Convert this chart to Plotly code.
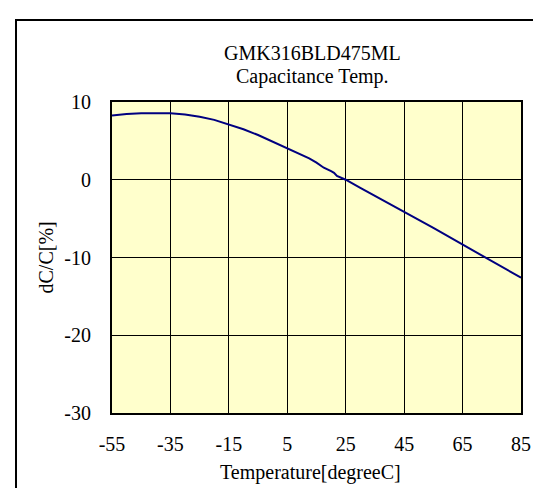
import plotly.graph_objects as go

temps = [-55, -50, -45, -40, -35, -30, -25, -20, -15, -10, -5, 0, 5, 10, 12.5, 15, 17.5, 20, 21, 22, 25,
         30, 35, 40, 45, 50, 55, 60, 65, 70, 75, 80, 85]
dcc = [8.25, 8.45, 8.55, 8.55, 8.55, 8.4, 8.1, 7.7, 7.15, 6.5, 5.75, 4.9, 4.0, 3.2, 2.75, 2.2, 1.55, 1.1, 0.9, 0.5, 0.0,
       -1.05, -2.05, -3.1, -4.1, -5.15, -6.2, -7.25, -8.3, -9.35, -10.4, -11.5, -12.6]

x_ticks = [-55, -35, -15, 5, 25, 45, 65, 85]
y_ticks = [10, 0, -10, -20, -30]

title_lines = ["GMK316BLD475ML", "Capacitance Temp."]
x_title = "Temperature[degreeC]"
y_title = "dC/C[%]"

FONT = "Liberation Serif, Times New Roman, serif"

fig = go.Figure()
fig.add_trace(go.Scatter(x=temps, y=dcc, mode="lines",
                         line=dict(color="#000080", width=2), showlegend=False))

fig.update_layout(
    width=541, height=488,
    margin=dict(l=104, r=28, t=94, b=83),
    paper_bgcolor="white",
    plot_bgcolor="#FFFFCC",
    font=dict(family=FONT, size=20, color="black"),
    xaxis=dict(range=[-55, 85], tickvals=x_ticks, ticktext=[str(v) for v in x_ticks],
               showgrid=True, gridcolor="black", gridwidth=1,
               showline=True, linecolor="black", linewidth=2, mirror=True,
               ticks="", ticklabelstandoff=12, zeroline=False,
               tickfont=dict(family=FONT, size=20)),
    yaxis=dict(range=[-30, 10], tickvals=y_ticks, ticktext=[str(v) for v in y_ticks],
               showgrid=True, gridcolor="black", gridwidth=1,
               showline=True, linecolor="black", linewidth=2, mirror=True,
               ticks="", ticklabelstandoff=15, zeroline=False,
               tickfont=dict(family=FONT, size=20)),
    annotations=[
        dict(text=title_lines[0], xref="paper", yref="paper", x=0.4914, y=1.1576,
             xanchor="center", yanchor="middle", showarrow=False, font=dict(size=20)),
        dict(text=title_lines[1], xref="paper", yref="paper", x=0.4914, y=1.0836,
             xanchor="center", yanchor="middle", showarrow=False, font=dict(size=20)),
        dict(text=x_title, xref="paper", yref="paper", x=0.486, y=-0.19,
             xanchor="center", yanchor="middle", showarrow=False, font=dict(size=20)),
        dict(text=y_title, xref="paper", yref="paper", x=-0.1614, y=0.5, textangle=-90,
             xanchor="center", yanchor="middle", showarrow=False, font=dict(size=20)),
    ],
    shapes=[
        dict(type="rect", xref="paper", yref="paper", x0=-0.2347, x1=1.08, y0=-0.3, y1=1.2637,
             line=dict(color="black", width=2), fillcolor="rgba(0,0,0,0)", layer="below"),
    ],
)

fig.write_html("out.html")
